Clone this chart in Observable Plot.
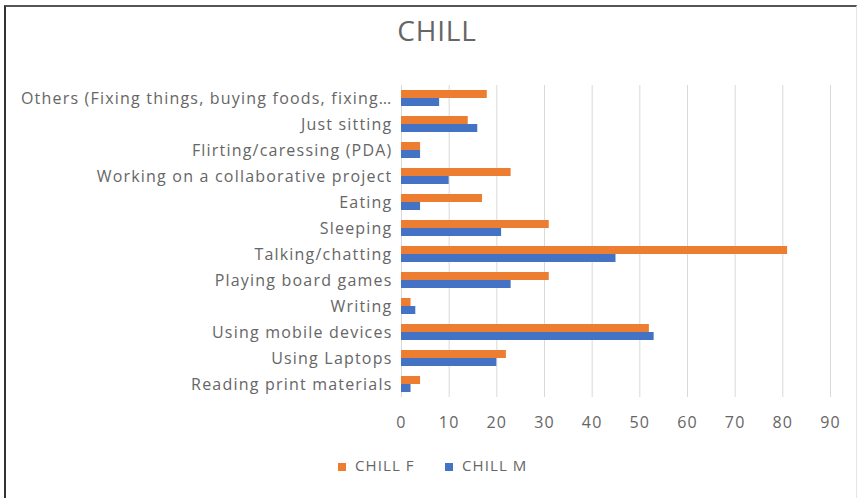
<!DOCTYPE html>
<html>
<head>
<meta charset="utf-8">
<script src="https://cdn.jsdelivr.net/npm/d3@7"></script>
<script src="https://cdn.jsdelivr.net/npm/@observablehq/plot@0.6"></script>
<style>
  html, body { margin: 0; padding: 0; background: #fff; }
  #frame { position: relative; width: 867px; height: 498px; overflow: hidden; font-family: "Open Sans", sans-serif; }
  #border { position: absolute; left: 4px; top: 5px; width: 850px; height: 500px; border-left: 2px solid #333; border-top: 2px solid #555; border-right: 1px solid #e6e6e6; }
  #title { position: absolute; left: 0; width: 874px; top: 11px; text-align: center; font-size: 28px; color: #666; letter-spacing: 0.8px; }
  #chart { position: absolute; left: 0; top: 60px; }
  .leg { position: absolute; top: 455px; font-size: 15px; color: #666; letter-spacing: 1.1px; white-space: nowrap; }
  .leg span.sw { display: inline-block; width: 8px; height: 8px; margin-right: 9px; vertical-align: 0px; }
</style>
</head>
<body>
<div id="frame">
  <div id="border"></div>
  <div id="title">CHILL</div>
  <div id="chart"></div>
</div>
<script>
const categories = [
  "Others (Fixing things, buying foods, fixing…",
  "Just sitting",
  "Flirting/caressing (PDA)",
  "Working on a collaborative project",
  "Eating",
  "Sleeping",
  "Talking/chatting",
  "Playing board games",
  "Writing",
  "Using mobile devices",
  "Using Laptops",
  "Reading print materials"
];
const series = ["CHILL F", "CHILL M"];
const valuesF = [18, 14, 4, 23, 17, 31, 81, 31, 2, 52, 22, 4];
const valuesM = [8, 16, 4, 10, 4, 21, 45, 23, 3, 53, 20, 2];
const colors = ["#ED7D31", "#4472C4"];
const xTicks = [0, 10, 20, 30, 40, 50, 60, 70, 80, 90];

const data = [];
categories.forEach((c, i) => {
  data.push({cat: c, series: series[0], value: valuesF[i]});
  data.push({cat: c, series: series[1], value: valuesM[i]});
});

const plot = Plot.plot({
  width: 867,
  height: 380,
  marginLeft: 401,
  marginRight: 37,
  marginTop: 20,
  marginBottom: 39,
  style: {fontFamily: "Open Sans, sans-serif", fontSize: "16px", color: "#666", background: "transparent", letterSpacing: "1.2px"},
  x: {domain: [0, 90], ticks: xTicks, label: null, tickSize: 0, tickPadding: 19},
  fy: {domain: categories, paddingInner: 0, paddingOuter: 0, label: null, axis: null},
  y: {domain: series, axis: null, paddingInner: 0, paddingOuter: 0.5},
  color: {domain: series, range: colors},
  marks: [
    Plot.gridX(xTicks, {stroke: "#d9d9d9", strokeOpacity: 1, strokeWidth: 1}),
    Plot.barX(data, {fy: "cat", y: "series", x: "value", fill: "series", inset: 0}),
    Plot.axisFy({anchor: "left", tickSize: 0, tickPadding: 9, label: null, fontSize: 16, textOverflow: null})
  ]
});
document.getElementById("chart").appendChild(plot);

const frame = document.getElementById("frame");
const legendX = [338, 445];
series.forEach((s, i) => {
  const item = document.createElement("div");
  item.className = "leg";
  item.style.left = legendX[i] + "px";
  item.innerHTML = `<span class="sw" style="background:${colors[i]}"></span>${s}`;
  frame.appendChild(item);
});
</script>
</body>
</html>
